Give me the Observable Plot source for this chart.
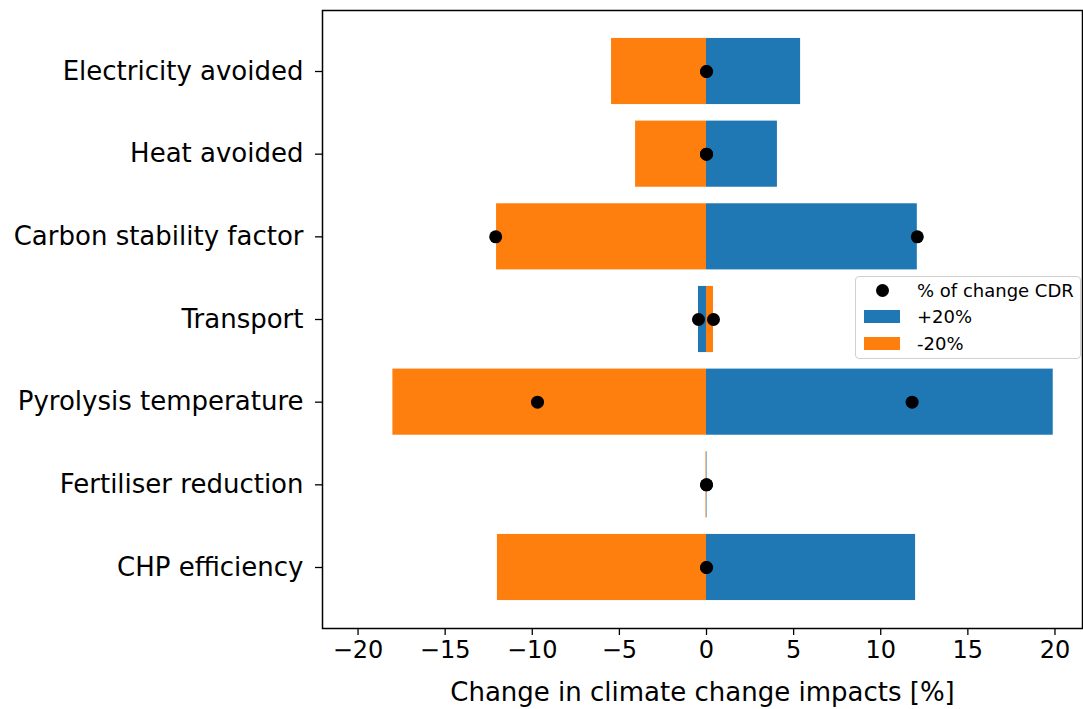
<!DOCTYPE html>
<html>
<head>
<meta charset="utf-8">
<script src="https://cdn.jsdelivr.net/npm/d3@7"></script>
<script src="https://cdn.jsdelivr.net/npm/@observablehq/plot@0.6"></script>
<style>
  html, body { margin: 0; padding: 0; background: #fff; }
  #wrap { position: relative; width: 1083px; height: 709px; font-family: "DejaVu Sans", sans-serif; }
  #legend { position: absolute; left: 855px; top: 276px; width: 226px; height: 83px; border: 1.5px solid #d0d0d0; border-radius: 4px; background: rgba(255,255,255,0.85); font-size: 18px; color: #000; box-sizing: border-box; }
  .row { position: absolute; left: 0; display: flex; align-items: center; height: 24px; }
  .sw { width: 36px; height: 13px; margin-left: 8px; margin-right: 17px; }
  .dot { width: 13px; height: 13px; border-radius: 50%; background: #000; margin-left: 20px; margin-right: 28px; }
</style>
</head>
<body>
<div id="wrap"><div id="chart"></div>
<div id="legend">
  <div class="row" style="top:1px"><div class="dot"></div><span>% of change CDR</span></div>
  <div class="row" style="top:27.5px"><div class="sw" style="background:#1f77b4"></div><span>+20%</span></div>
  <div class="row" style="top:54px"><div class="sw" style="background:#ff7f0e"></div><span>-20%</span></div>
</div>
</div>
<script>
const categories = ["Electricity avoided", "Heat avoided", "Carbon stability factor", "Transport", "Pyrolysis temperature", "Fertiliser reduction", "CHP efficiency"];
const plus20 = [5.4, 4.07, 12.1, -0.46, 19.9, 0.03, 12.0];
const minus20 = [-5.45, -4.07, -12.05, 0.4, -18.0, -0.03, -12.0];
const dotPlus = [0, 0, 12.1, -0.46, 11.8, 0, 0];
const dotMinus = [0, 0, -12.1, 0.4, -9.7, 0, 0];
const xTicks = [-20, -15, -10, -5, 0, 5, 10, 15, 20];

const barsPlus = categories.map((c, i) => ({cat: c, v: plus20[i]}));
const barsMinus = categories.map((c, i) => ({cat: c, v: minus20[i]}));
const dots = categories.flatMap((c, i) => [{cat: c, v: dotPlus[i]}, {cat: c, v: dotMinus[i]}]);

const chart = Plot.plot({
  width: 1083,
  height: 709,
  marginLeft: 322,
  marginRight: 1,
  marginTop: 10,
  marginBottom: 81,
  style: {fontFamily: "DejaVu Sans, sans-serif", color: "#000", background: "#fff"},
  x: {domain: [-22.04, 21.58]},
  y: {domain: categories, paddingInner: 0.2, paddingOuter: 0.338, round: false},
  marks: [
    Plot.barX(barsPlus, {x1: 0, x2: "v", y: "cat", fill: "#1f77b4"}),
    Plot.barX(barsMinus, {x1: 0, x2: "v", y: "cat", fill: "#ff7f0e"}),
    Plot.dot(dots, {x: "v", y: "cat", r: 6.5, fill: "#000"}),
    Plot.axisX({ticks: xTicks, tickSize: 7, tickPadding: 5, fontSize: 24, strokeWidth: 1.3, label: null}),
    Plot.axisX({ticks: [], tickSize: 0, fontSize: 26, label: "Change in climate change impacts [%]", labelAnchor: "center", labelArrow: "none", labelOffset: 72}),
    Plot.axisY({tickSize: 7, tickPadding: 12, fontSize: 26, strokeWidth: 1.3, label: null}),
    Plot.frame({stroke: "#000", strokeWidth: 1.5})
  ]
});
document.getElementById("chart").appendChild(chart);
</script>
</body>
</html>
